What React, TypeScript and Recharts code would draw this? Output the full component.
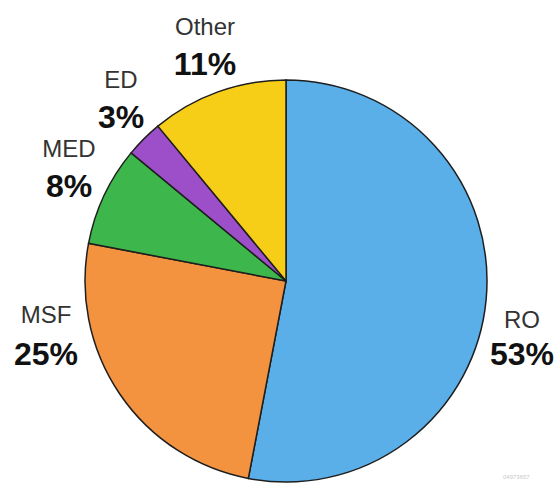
import React from "react";
import { PieChart, Pie, Cell } from "recharts";

const categories = ["RO", "MSF", "MED", "ED", "Other"];
const shares = [53, 25, 8, 3, 11];
const colors = ["#5aafe8", "#f3923f", "#3db64b", "#9d4fca", "#f6cd17"];

const data = categories.map((name, i) => ({ name, value: shares[i] }));

// label layout: [center x, name baseline, percent baseline]
const labelLayout: [number, number, number][] = [
  [522, 328, 365],
  [46, 323, 365],
  [69, 157, 197],
  [121, 88, 128],
  [205, 35, 75],
];

const renderLabel = (props: any) => {
  const i = props.index;
  const [x, y1, y2] = labelLayout[i];
  return (
    <g>
      <text
        x={x}
        y={y1}
        textAnchor="middle"
        fontFamily="'Liberation Sans', Arial, sans-serif"
        fontSize={24}
        fill="#333"
      >
        {data[i].name}
      </text>
      <text
        x={x}
        y={y2}
        textAnchor="middle"
        fontFamily="'Liberation Sans', Arial, sans-serif"
        fontSize={32}
        fontWeight="bold"
        fill="#111"
      >
        {data[i].value}%
      </text>
    </g>
  );
};

export default function App() {
  return (
    <div style={{ position: "absolute", left: 0, top: 0, width: 556, height: 500, background: "#fff" }}>
      <PieChart width={556} height={500} margin={{ top: 0, right: 0, bottom: 0, left: 0 }}>
        <Pie
          data={data}
          dataKey="value"
          nameKey="name"
          cx={286}
          cy={281}
          outerRadius={201}
          startAngle={90}
          endAngle={-270}
          stroke="#1e1e1e"
          strokeWidth={1.5}
          label={renderLabel}
          labelLine={false}
          isAnimationActive={false}
        >
          {data.map((d, i) => (
            <Cell key={d.name} fill={colors[i]} />
          ))}
        </Pie>
      </PieChart>
      <div
        style={{
          position: "absolute",
          left: 503,
          top: 474,
          fontFamily: "'Liberation Sans', Arial, sans-serif",
          fontSize: 6,
          color: "#c8c8c8",
        }}
      >
        04973657
      </div>
    </div>
  );
}
